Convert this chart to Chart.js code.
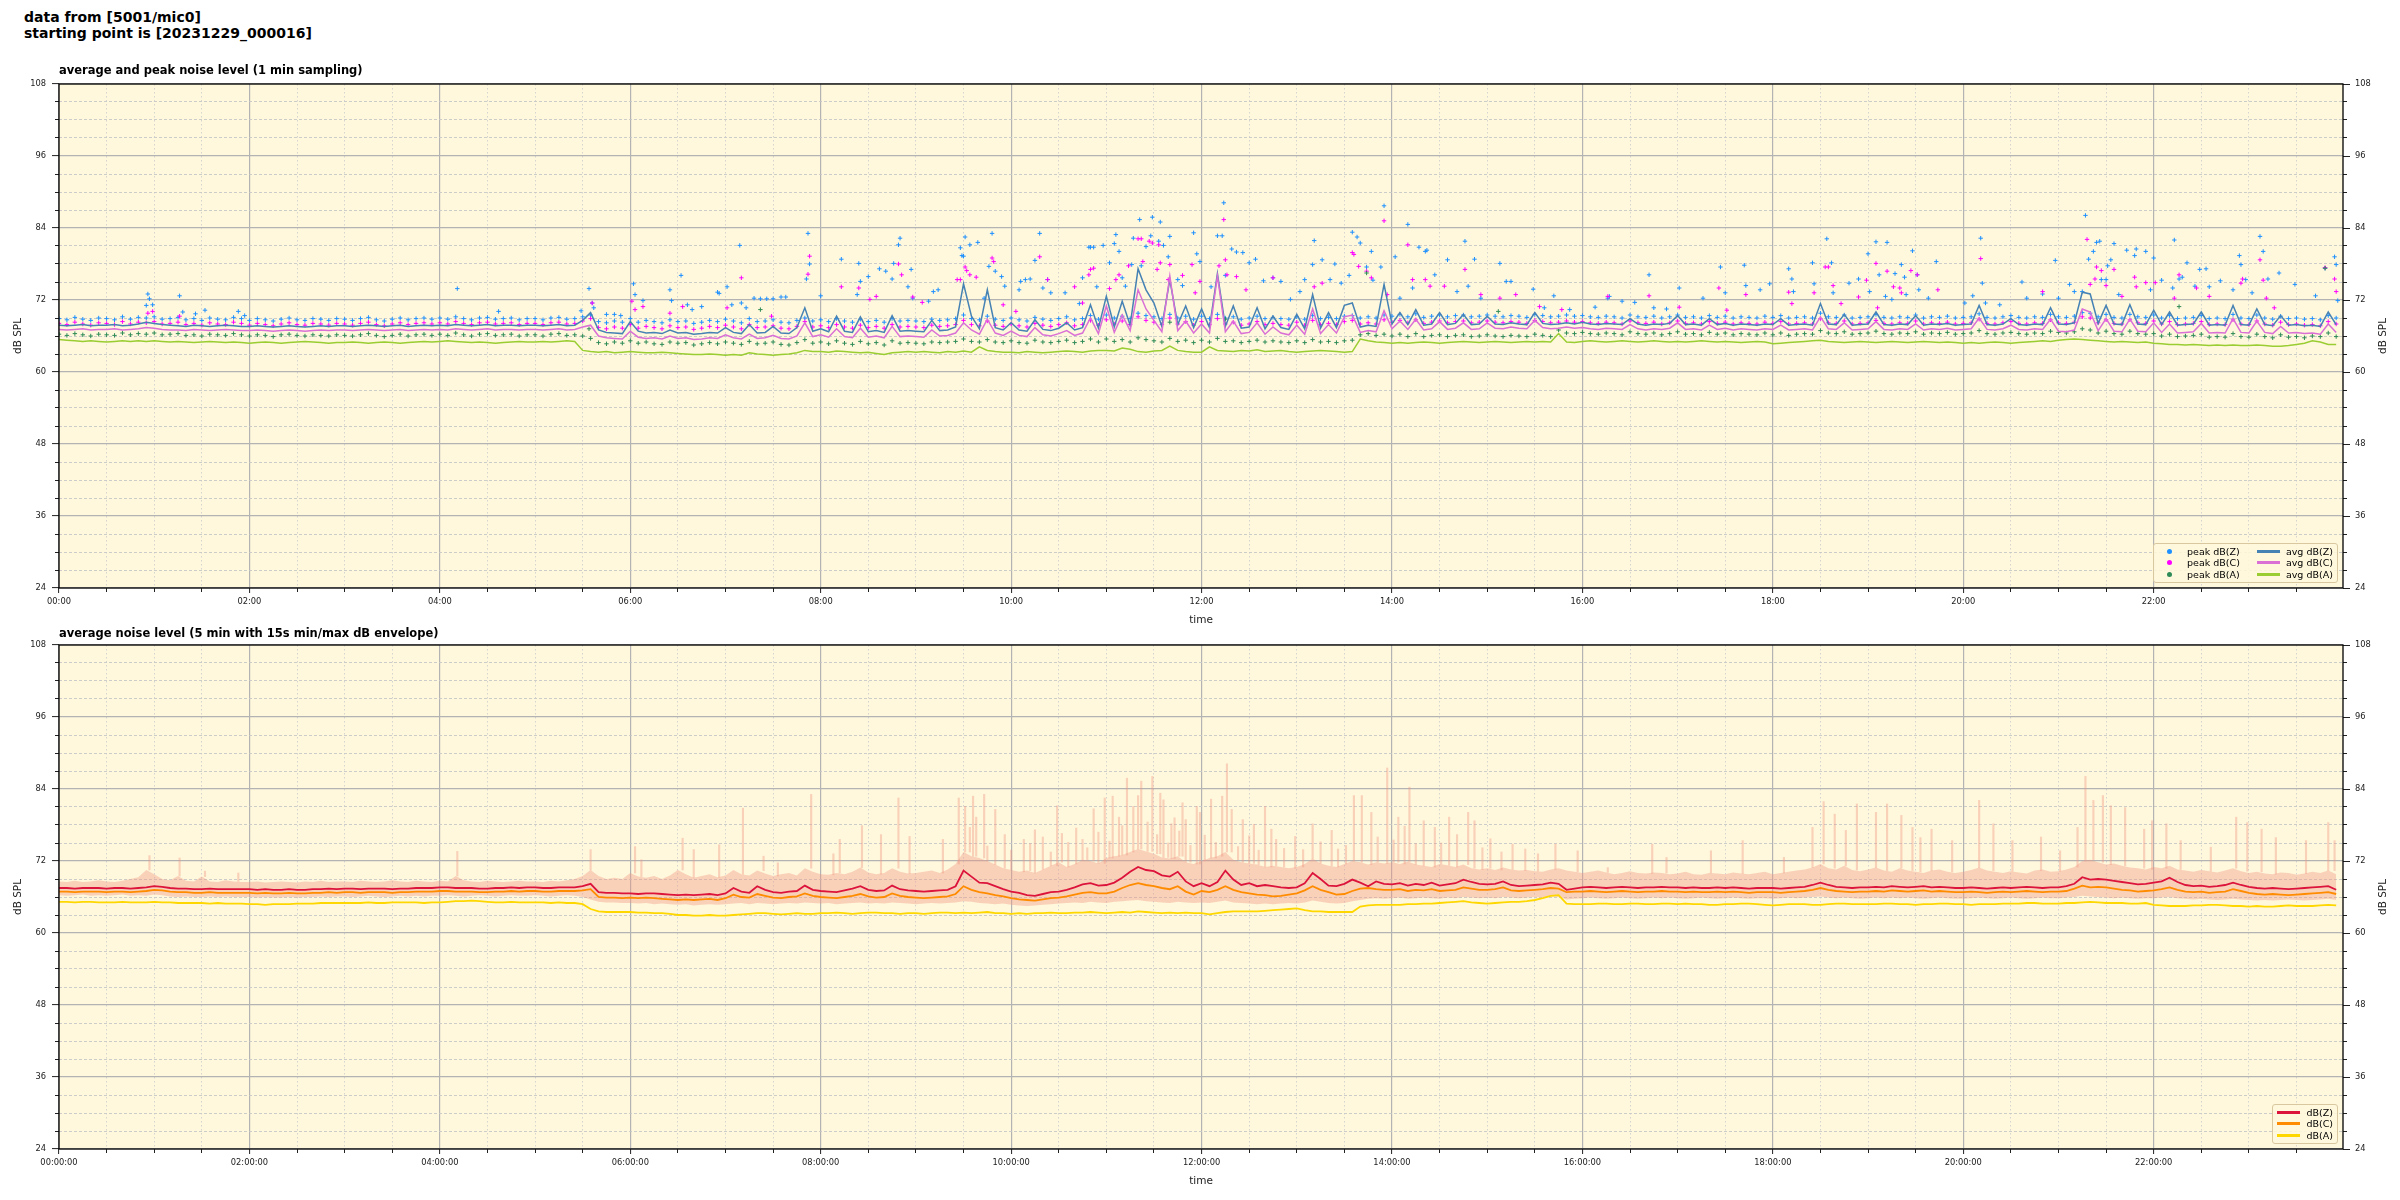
<!DOCTYPE html>
<html><head><meta charset="utf-8">
<script src="https://cdn.jsdelivr.net/npm/chart.js"></script>
<style>
html,body{margin:0;padding:0;background:#fff;}
body{width:2400px;height:1200px;position:relative;overflow:hidden;font-family:'DejaVu Sans',sans-serif;}
#hdr{position:absolute;left:24px;top:10px;font-weight:bold;font-size:14px;line-height:15.5px;color:#000;white-space:pre;}
canvas{position:absolute;left:0;}
#c1{top:45px;} #c2{top:605px;}
.rt{position:absolute;font-size:10.5px;color:#222;transform:translate(-50%,-50%) rotate(-90deg);white-space:nowrap;}
.lg{position:absolute;background:rgba(255,248,220,0.85);border:1px solid #d9c7a0;border-radius:3px;display:grid;grid-auto-flow:column;grid-template-rows:repeat(3,11.5px);column-gap:17px;padding:2px 4px;font-size:9.5px;color:#000;}
.li{display:flex;align-items:center;white-space:nowrap;}
.hd{display:inline-flex;width:23px;justify-content:center;align-items:center;margin-right:6px;}
</style></head><body>
<div id="hdr">data from [5001/mic0]
starting point is [20231229_000016]</div>
<canvas id="c1" width="2400" height="590"></canvas>
<canvas id="c2" width="2400" height="595"></canvas>
<div class="rt" style="left:2382px;top:336px">dB SPL</div>
<div class="rt" style="left:2382px;top:897px">dB SPL</div>
<div id="lg1" class="lg" style="right:62px;bottom:617px"></div>
<div id="lg2" class="lg" style="right:62px;bottom:56px"></div>
<script>
// ---------- data (5-minute slots, 24 rows x 12 values each) ----------
const STEP_MIN = 5;
const X_MAX = 1439.3;
const X_MAJOR_TICKS = [0,120,240,360,480,600,720,840,960,1080,1200,1320];
const X_MINOR_TICKS = [30,60,90,150,180,210,270,300,330,390,420,450,510,540,570,630,660,690,750,780,810,870,900,930,990,1020,1050,1110,1140,1170,1230,1260,1290,1350,1380,1410];
const Y_MAJOR_TICKS = [24,36,48,60,72,84,96,108];
const Y_MINOR_TICKS = [27,30,33,39,42,45,51,54,57,63,66,69,75,78,81,87,90,93,99,102,105];

const TOP_AVG_Z = [
67.8,67.7,67.8,67.9,67.7,67.8,67.8,67.9,67.7,67.8,68.0,68.3,
68.1,67.9,67.8,67.7,67.6,67.8,67.7,67.6,67.7,67.8,67.7,67.6,
67.6,67.7,67.6,67.5,67.6,67.7,67.6,67.5,67.6,67.7,67.6,67.7,
67.7,67.6,67.7,67.8,67.7,67.6,67.7,67.8,67.6,67.7,67.8,67.7,
67.8,67.7,67.9,67.8,67.7,67.8,67.9,67.7,67.8,67.8,67.7,67.8,
67.8,67.7,67.8,67.9,67.7,67.8,68.6,69.9,67.0,66.6,66.5,66.4,
68.4,66.8,66.5,66.6,66.4,67.0,66.5,66.6,66.3,66.4,66.6,66.5,
67.4,66.6,66.4,67.9,66.5,66.6,67.6,66.5,66.4,67.4,70.7,66.8,
67.2,66.7,69.3,66.8,66.6,69.2,66.7,66.9,66.6,69.4,66.8,66.9,
66.8,66.7,68.6,66.9,67.0,67.5,74.7,69.3,67.2,73.7,67.4,67.0,
68.2,67.0,66.8,68.7,67.1,66.9,67.3,68.2,67.0,67.4,71.2,67.3,
72.6,67.5,71.8,67.8,77.2,73.7,71.5,67.6,75.4,67.9,71.0,67.4,
70.5,67.4,76.4,67.6,71.0,67.3,67.5,70.7,67.2,69.3,67.4,67.1,
69.6,67.2,72.9,67.3,69.9,67.4,71.1,71.5,67.5,67.8,67.6,74.6,
68.0,69.9,67.9,70.4,67.8,68.0,69.9,67.9,68.1,69.6,67.9,68.0,
69.3,68.0,67.9,68.2,68.0,67.9,69.9,68.1,67.9,68.0,68.2,68.0,
68.3,68.0,67.9,68.1,68.0,67.9,68.9,68.0,67.8,68.0,67.9,68.1,
69.4,67.9,68.0,67.8,68.9,67.9,68.1,67.8,68.0,67.9,67.8,68.0,
67.9,68.9,67.8,67.9,68.0,67.8,71.4,68.0,67.9,69.6,67.8,67.9,
68.0,70.0,67.9,67.8,68.0,67.9,69.4,67.8,68.0,67.9,68.1,67.8,
67.9,68.0,71.1,67.9,67.8,68.0,68.9,67.9,67.8,68.0,67.9,70.7,
68.0,67.9,68.2,73.3,73.0,68.1,71.1,68.0,67.9,71.2,68.0,67.9,
70.3,67.9,70.0,67.8,67.9,68.0,70.0,67.8,67.9,67.8,71.1,67.9,
67.8,70.5,67.9,67.7,69.4,67.8,67.9,67.7,67.8,67.6,70.0,67.9];

const TOP_AVG_C = [
67.1,67.0,67.1,67.2,67.0,67.1,67.1,67.2,67.0,67.1,67.2,67.4,
67.3,67.1,67.0,67.0,66.9,67.1,67.0,66.9,67.0,67.1,67.0,66.9,
66.9,67.0,66.9,66.8,66.9,67.0,66.9,66.8,66.9,67.0,66.9,67.0,
67.0,66.9,67.0,67.1,67.0,66.9,67.0,67.1,66.9,67.0,67.1,67.0,
67.1,67.0,67.2,67.1,67.0,67.1,67.2,67.0,67.1,67.1,67.0,67.1,
67.1,67.0,67.1,67.2,67.0,67.1,67.5,67.8,66.0,65.7,65.6,65.5,
66.8,65.8,65.6,65.7,65.5,66.0,65.6,65.7,65.4,65.5,65.7,65.6,
66.2,65.7,65.5,66.3,65.6,65.7,66.1,65.6,65.5,66.0,68.2,65.9,
66.2,65.8,67.2,65.9,65.7,67.3,65.8,66.0,65.7,67.6,65.9,66.0,
65.9,65.8,67.0,66.0,66.1,66.5,68.2,67.0,66.3,68.8,66.5,66.1,
66.8,66.1,65.9,67.4,66.2,66.0,66.4,66.9,66.1,66.5,69.0,66.4,
71.0,66.6,69.5,66.9,73.7,70.5,68.6,66.7,76.0,66.9,68.5,66.5,
68.0,66.5,76.0,66.7,68.5,66.4,66.6,68.2,66.3,67.5,66.5,66.2,
67.8,66.3,70.5,66.4,67.9,66.5,69.2,69.5,66.6,66.9,66.7,70.2,
67.2,68.5,67.1,68.8,67.0,67.2,68.4,67.1,67.3,68.2,67.1,67.2,
68.2,67.3,67.2,67.5,67.3,67.2,68.6,67.4,67.2,67.3,67.5,67.3,
67.4,67.2,67.1,67.3,67.2,67.1,67.9,67.2,67.0,67.2,67.1,67.3,
68.2,67.1,67.2,67.0,67.8,67.1,67.3,67.0,67.2,67.1,67.0,67.2,
67.1,67.8,67.0,67.1,67.2,67.0,69.2,67.2,67.1,68.2,67.0,67.1,
67.2,68.4,67.1,67.0,67.2,67.1,68.0,67.0,67.2,67.1,67.3,67.0,
67.1,67.2,69.0,67.1,67.0,67.2,67.8,67.1,67.0,67.2,67.1,68.8,
66.8,66.7,67.0,70.5,70.0,66.9,68.9,66.8,66.7,68.8,66.8,66.7,
68.2,66.6,68.0,66.5,66.6,66.7,68.1,66.5,66.6,66.5,68.9,66.6,
66.5,68.5,66.6,66.4,67.6,66.5,66.6,66.4,66.5,66.3,68.0,66.6];

const TOP_AVG_A = [
65.4,65.3,65.2,65.1,65.2,65.1,65.0,65.1,65.2,65.1,65.2,65.1,
65.2,65.1,65.0,65.1,65.0,64.9,65.0,65.1,65.0,64.9,65.0,64.9,
64.8,64.9,65.0,64.9,64.8,64.9,65.0,65.1,65.0,64.9,64.8,64.9,
64.9,65.0,64.9,64.8,64.9,65.0,64.9,64.8,64.9,65.0,65.1,65.0,
65.1,65.2,65.1,65.0,64.9,65.0,64.9,64.8,64.9,65.0,65.1,65.0,
65.0,65.1,65.0,65.1,65.2,65.1,63.6,63.4,63.3,63.4,63.2,63.3,
63.4,63.3,63.2,63.2,63.3,63.2,63.1,63.0,62.9,62.9,63.0,62.9,
62.8,62.9,62.8,63.2,63.0,62.9,62.8,62.9,63.0,63.2,63.6,63.4,
63.4,63.3,63.5,63.4,63.3,63.2,63.3,63.1,62.9,63.2,63.3,63.4,
63.3,63.4,63.3,63.2,63.4,63.3,63.5,63.3,64.2,63.6,63.4,63.3,
63.3,63.2,63.4,63.3,63.2,63.3,63.4,63.5,63.4,63.3,63.5,63.6,
63.6,63.5,64.0,63.8,63.4,63.3,63.5,63.6,64.3,63.6,63.4,63.3,
63.3,64.2,63.6,63.5,63.4,63.6,63.5,63.7,63.4,63.5,63.6,63.4,
63.3,63.4,63.5,63.6,63.5,63.4,63.3,63.4,65.5,65.2,65.0,64.9,
64.8,64.9,64.8,64.9,65.0,64.9,64.8,64.9,65.0,65.1,65.0,64.9,
65.0,65.1,65.0,64.9,65.0,65.1,65.0,65.1,65.0,66.4,65.0,64.9,
65.1,65.2,65.1,65.0,65.1,65.2,65.1,65.0,65.1,65.2,65.1,65.0,
65.1,65.0,65.1,65.2,65.1,65.0,65.1,65.0,64.9,65.0,65.1,65.0,
64.7,64.8,64.9,65.0,65.1,65.2,65.3,65.1,65.0,64.9,65.0,65.1,
65.0,64.9,65.0,65.1,65.0,64.9,65.0,65.1,65.0,64.9,65.0,64.9,
64.8,64.9,64.8,64.9,65.0,64.9,64.8,64.9,65.0,65.1,65.2,65.1,
65.3,65.4,65.5,65.4,65.3,65.2,65.1,65.0,65.1,65.0,64.9,65.0,
64.8,64.7,64.6,64.6,64.5,64.6,64.5,64.4,64.5,64.4,64.5,64.4,
64.4,64.5,64.4,64.3,64.3,64.4,64.6,64.8,65.2,65.0,64.6,64.6];

const PEAK_Z = [
68.9,68.7,69.1,68.8,68.6,69.0,68.9,68.7,69.2,68.8,69.1,69.0,
69.2,68.8,68.9,69.1,68.7,68.9,68.6,69.0,68.8,68.7,69.1,68.9,
68.6,68.9,68.7,68.5,68.8,69.0,68.7,68.6,68.9,68.8,68.6,68.9,
68.8,68.6,68.9,69.1,68.7,68.5,68.8,69.0,68.7,68.9,69.0,68.8,
69.0,68.8,69.2,68.9,68.7,69.0,69.1,68.8,68.9,69.0,68.7,68.9,
68.9,68.7,69.0,69.1,68.8,68.9,69.2,69.5,68.4,68.2,68.5,68.3,
68.9,68.3,68.6,68.4,68.2,68.7,68.4,68.5,68.1,68.3,68.6,68.4,
68.8,68.5,68.2,68.9,68.4,68.5,68.7,68.3,68.2,68.6,69.0,68.5,
68.7,68.4,68.9,68.5,68.3,68.8,68.4,68.6,68.3,68.9,68.5,68.6,
68.5,68.4,68.8,68.6,68.7,68.9,69.5,68.9,68.7,69.3,68.8,68.6,
69.0,68.7,68.5,69.1,68.8,68.6,68.9,69.2,68.7,68.9,69.4,68.8,
69.5,69.0,69.3,68.9,69.8,69.4,69.2,68.9,69.6,69.0,69.3,68.8,
69.3,68.9,69.6,69.0,69.2,68.8,69.0,69.3,68.9,69.1,68.9,68.8,
69.2,68.8,69.4,68.9,69.1,68.9,69.3,69.4,69.0,69.2,69.0,69.5,
69.3,69.6,69.2,69.7,69.1,69.3,69.5,69.2,69.4,69.5,69.2,69.3,
69.5,69.3,69.2,69.4,69.3,69.1,69.6,69.4,69.2,69.3,69.5,69.3,
69.4,69.2,69.1,69.3,69.2,69.0,69.5,69.2,69.1,69.3,69.0,69.2,
69.5,69.1,69.2,69.0,69.4,69.1,69.3,69.0,69.2,69.1,69.0,69.3,
69.1,69.4,69.0,69.1,69.2,69.0,69.8,69.2,69.1,69.5,69.0,69.1,
69.2,69.6,69.1,69.0,69.2,69.1,69.5,69.0,69.2,69.1,69.3,69.0,
69.1,69.2,69.7,69.1,69.0,69.2,69.4,69.1,69.0,69.2,69.1,69.6,
69.2,69.1,69.3,69.9,69.8,69.2,69.6,69.1,69.0,69.6,69.2,69.1,
69.5,69.0,69.4,68.9,69.0,69.1,69.4,68.9,69.0,68.9,69.6,69.0,
68.9,69.5,69.0,68.8,69.3,68.9,69.0,68.8,68.9,68.7,69.4,69.0];

const PEAK_C = [
68.1,67.9,68.3,68.0,67.8,68.2,68.1,67.9,68.4,68.0,68.3,68.2,
68.4,68.0,68.1,68.3,67.9,68.1,67.8,68.2,68.0,67.9,68.3,68.1,
67.8,68.1,67.9,67.7,68.0,68.2,67.9,67.8,68.1,68.0,67.8,68.1,
68.0,67.8,68.1,68.3,67.9,67.7,68.0,68.2,67.9,68.1,68.2,68.0,
68.2,68.0,68.4,68.1,67.9,68.2,68.3,68.0,68.1,68.2,67.9,68.1,
68.1,67.9,68.2,68.3,68.0,68.1,68.5,68.9,67.4,67.2,67.5,67.3,
67.9,67.3,67.6,67.4,67.2,67.7,67.4,67.5,67.1,67.3,67.6,67.4,
67.8,67.5,67.2,67.9,67.4,67.5,67.7,67.3,67.2,67.6,68.4,67.5,
67.7,67.4,67.9,67.5,67.3,67.8,67.4,67.6,67.3,67.9,67.5,67.6,
67.5,67.4,67.8,67.6,67.7,67.9,68.6,67.9,67.7,68.5,67.8,67.6,
68.0,67.7,67.5,68.1,67.8,67.6,67.9,68.2,67.7,67.9,68.6,67.8,
68.7,68.0,68.5,67.9,69.2,68.6,68.3,67.9,69.0,68.0,68.4,67.8,
68.4,67.9,68.9,68.0,68.3,67.8,68.0,68.4,67.9,68.1,67.9,67.8,
68.3,67.8,68.6,67.9,68.1,67.9,68.4,68.6,68.0,68.2,68.0,68.7,
68.3,68.6,68.2,68.7,68.1,68.3,68.5,68.2,68.4,68.5,68.2,68.3,
68.5,68.3,68.2,68.4,68.3,68.1,68.6,68.4,68.2,68.3,68.5,68.3,
68.4,68.2,68.1,68.3,68.2,68.0,68.5,68.2,68.1,68.3,68.0,68.2,
68.5,68.1,68.2,68.0,68.4,68.1,68.3,68.0,68.2,68.1,68.0,68.3,
68.1,68.4,68.0,68.1,68.2,68.0,68.9,68.2,68.1,68.5,68.0,68.1,
68.2,68.6,68.1,68.0,68.2,68.1,68.5,68.0,68.2,68.1,68.3,68.0,
68.1,68.2,68.8,68.1,68.0,68.2,68.4,68.1,68.0,68.2,68.1,68.7,
68.2,68.1,68.3,69.2,69.0,68.2,68.7,68.1,68.0,68.7,68.2,68.1,
68.5,68.0,68.4,67.9,68.0,68.1,68.4,67.9,68.0,67.9,68.7,68.0,
67.9,68.5,68.0,67.8,68.3,67.9,68.0,67.8,67.9,67.7,68.4,68.0];

const PEAK_A = [
66.3,66.1,66.4,66.2,66.0,66.3,66.2,66.1,66.5,66.2,66.4,66.3,
66.5,66.2,66.3,66.4,66.1,66.2,66.0,66.3,66.2,66.1,66.4,66.2,
66.0,66.2,66.1,65.9,66.2,66.3,66.1,66.0,66.2,66.1,66.0,66.2,
66.1,66.0,66.2,66.4,66.1,65.9,66.1,66.3,66.0,66.2,66.3,66.1,
66.3,66.1,66.5,66.2,66.0,66.3,66.4,66.1,66.2,66.3,66.0,66.2,
66.2,66.0,66.3,66.4,66.1,66.2,66.0,65.6,64.9,64.7,65.0,64.8,
65.2,64.8,65.0,64.7,64.6,65.0,64.8,64.9,64.5,64.7,64.9,64.7,
65.0,64.8,64.6,65.1,64.7,64.8,65.0,64.6,64.5,64.9,65.4,64.8,
65.0,64.7,65.2,64.8,64.6,65.1,64.7,64.9,64.5,65.2,64.8,64.9,
64.8,64.7,65.0,64.9,65.0,65.1,65.5,65.1,65.0,65.4,65.0,64.9,
65.2,64.9,64.8,65.3,65.0,64.9,65.1,65.3,64.9,65.1,65.5,65.0,
65.5,65.1,65.4,65.0,65.7,65.4,65.2,65.0,65.6,65.1,65.3,64.9,
65.3,65.0,65.6,65.1,65.2,64.9,65.1,65.3,65.0,65.2,65.0,64.9,
65.2,64.9,65.4,65.0,65.1,64.9,65.2,65.3,66.2,66.4,66.1,66.3,
66.0,66.3,65.9,66.4,65.9,66.1,66.2,65.9,66.1,66.2,65.9,66.0,
66.2,66.0,65.9,66.1,66.0,65.9,66.3,66.1,65.9,67.0,66.5,66.4,
66.6,66.4,66.3,66.5,66.4,66.2,66.7,66.4,66.3,66.5,66.2,66.4,
66.7,66.3,66.4,66.2,66.6,66.3,66.5,66.2,66.4,66.3,66.2,66.5,
66.2,66.5,66.1,66.3,66.4,66.3,66.9,66.5,66.4,66.7,66.3,66.4,
66.5,66.8,66.4,66.3,66.5,66.4,66.7,66.3,66.5,66.4,66.6,66.3,
66.4,66.5,66.9,66.4,66.3,66.5,66.6,66.4,66.3,66.5,66.4,66.8,
66.6,66.5,66.7,67.2,67.0,66.5,66.8,66.4,66.3,66.8,66.4,66.3,
66.4,66.0,66.3,65.9,66.0,66.1,66.3,65.8,65.9,65.8,66.4,65.9,
65.8,66.3,65.9,65.7,66.2,65.8,65.9,65.7,66.0,65.9,66.5,65.9];

// isolated peak readings (minute of day, dB)
const PEAK_Z_OUT_MIN = [55,56,57,59,76,78,86,92,113,117,251,277,329,334,336,337,345,350,354,362,363,368,385,386,392,396,399,405,415,416,421,424,429,430,433,438,442,446,450,455,458,471,472,473,480,
493,503,504,505,510,517,521,525,526,529,530,535,537,538,548,551,554,568,569,570,571,574,579,583,586,588,590,594,596,605,606,609,612,615,618,620,623,625,634,643,645,649,650,652,654,658,662,665,666,668,670,672,676,677,681,682,685,688,689,693,694,696,699,700,705,708,715,717,719,726,730,733,734,735,739,742,746,750,754,759,765,770,776,782,785,790,791,796,801,804,808,813,815,818,820,824,827,828,833,835,842,845,850,853,857,861,862,867,875,881,886,888,892,896,908,912,915,929,936,942,952,
968,976,977,985,993,1002,1005,1013,1021,1036,1047,1050,1062,1063,1072,1078,1090,1092,1093,1105,1106,1114,1117,1118,1128,1134,1140,1141,1145,1147,1151,1152,1155,1157,1161,1163,1164,1168,1171,1172,1178,1183,1201,1206,1211,1212,1214,1223,1237,1240,1250,1258,1260,1267,1270,1275,1277,1279,1282,1284,1286,1287,1290,1291,1293,1295,1298,1303,1308,1309,1315,1318,1320,1325,1332,1333,1336,1338,1341,1346,1349,1353,1355,1362,1370,1374,1375,1378,1382,1387,1389,1392,1399,1409,1422,1428,1434,1435,1436];
const PEAK_Z_OUT_DB = [71.1,73.0,72.2,71.2,72.7,70.0,69.7,70.3,70.1,69.4,73.9,70.1,70.2,73.9,71.5,70.7,69.6,69.6,69.4,74.7,72.9,71.9,73.7,71.9,76.1,71.2,70.4,70.9,73.3,73.1,74.2,71.2,81.1,71.5,70.7,72.3,72.2,72.2,72.2,72.5,72.5,75.5,83.1,78.0,72.7,
78.8,72.9,78.1,75.1,75.9,77.2,76.8,75.5,78.1,81.2,82.3,74.2,77.1,72.3,71.8,73.4,73.7,80.7,79.4,79.3,82.5,81.2,81.6,72.3,77.6,83.1,76.8,75.9,74.3,73.7,75.1,75.4,75.5,78.6,83.1,74.0,75.4,73.2,73.2,71.4,75.7,80.8,80.8,80.8,74.2,81.1,78.2,81.4,82.9,80.1,75.7,74.3,77.9,82.3,85.4,77.7,80.9,82.7,85.8,81.8,85.0,81.1,79.2,82.6,75.4,74.4,83.2,79.7,78.4,74.2,82.7,82.7,88.2,76.1,80.5,80.0,79.9,78.2,78.8,75.2,75.7,75.1,72.1,73.4,75.4,77.9,81.9,78.7,75.4,78.0,74.8,76.1,83.3,82.5,81.5,77.5,80.1,75.3,77.5,87.7,79.2,72.3,84.6,74.0,80.8,80.1,80.3,76.2,78.7,73.4,81.8,74.3,78.8,72.3,78.1,75.1,75.1,73.8,70.7,72.7,70.4,
70.8,72.3,72.6,71.8,71.6,76.2,70.7,70.5,74.0,72.3,77.5,73.2,77.8,74.4,73.7,74.7,77.2,75.5,73.4,78.2,74.7,82.2,78.2,73.2,74.8,75.5,79.7,73.4,81.7,76.2,72.6,81.6,72.1,76.4,77.9,75.8,72.9,80.2,76.2,73.7,72.3,78.4,71.5,72.7,82.3,74.8,71.5,71.2,75.0,72.3,73.0,78.6,72.3,74.6,73.4,73.4,86.1,78.8,80.1,81.6,81.8,75.4,75.4,77.7,78.7,81.4,72.9,80.3,79.4,80.5,80.1,73.7,79.0,75.3,74.0,82.0,75.5,75.8,78.2,74.3,77.1,77.2,74.2,75.2,73.7,79.4,77.9,75.4,73.2,82.6,80.1,75.5,76.5,74.6,72.7,77.3,79.2,77.9,71.9];

const PEAK_C_OUT_MIN = [56,59,76,336,361,363,368,385,393,421,430,449,472,473,
493,504,511,515,529,531,538,544,566,568,571,572,574,578,588,589,595,603,618,623,640,645,649,650,652,662,666,668,674,680,682,683,687,689,692,693,694,699,700,708,714,716,719,731,734,735,736,742,748,765,791,796,815,816,819,824,827,835,837,850,853,861,864,873,886,896,908,918,933,947,
976,1002,1021,1046,1051,1063,1090,1092,1106,1113,1115,1118,1123,1134,1139,1145,1146,1152,1156,1160,1161,1167,1171,1184,1211,1250,1278,1280,1283,1284,1287,1290,1295,1300,1308,1309,1315,1321,1333,1336,1347,1355,1375,1376,1387,1389,1391,1396,1428,1434,1435];
const PEAK_C_OUT_DB = [69.8,70.1,69.3,71.5,71.8,70.4,70.9,69.8,70.9,70.7,75.7,69.3,76.3,79.3,
74.2,74.0,72.1,72.6,78.0,76.2,72.5,71.6,75.4,75.4,77.5,76.9,76.2,75.8,79.0,78.4,71.2,70.1,79.2,75.4,74.2,71.5,76.2,77.1,77.3,73.9,75.4,76.2,77.7,82.2,82.2,78.4,81.8,81.5,77.1,81.2,78.2,75.4,77.9,76.1,77.9,73.2,75.1,77.7,85.4,78.7,76.2,75.9,73.7,75.7,74.2,74.8,79.9,79.6,77.6,76.8,75.7,85.2,72.9,81.2,75.4,75.4,74.3,74.3,77.1,72.9,72.3,72.9,70.9,70.4,
72.6,72.7,70.8,74.0,70.3,72.9,73.3,71.4,73.2,77.5,77.5,74.4,71.4,72.5,75.3,78.1,70.7,76.8,74.2,74.0,73.2,76.9,76.2,73.7,78.9,73.4,82.1,74.6,75.5,77.5,76.9,74.4,77.1,72.6,75.8,74.2,74.9,74.9,72.3,76.2,74.0,72.6,74.8,75.5,78.7,75.3,72.3,70.7,77.4,75.5,73.4];

const PEAK_A_OUT_MIN = [334,442,700,735,824,907,1336,1428];
const PEAK_A_OUT_DB = [67.2,70.4,68.3,68.8,76.5,70.1,70.9,77.3];

// bottom chart: 5-min averages
const BOT_Z = [
67.5,67.5,67.4,67.5,67.5,67.5,67.4,67.5,67.5,67.4,67.5,67.6,
67.8,67.7,67.5,67.4,67.4,67.3,67.3,67.4,67.3,67.3,67.3,67.3,
67.3,67.2,67.3,67.2,67.2,67.3,67.2,67.2,67.3,67.3,67.4,67.3,
67.4,67.4,67.3,67.4,67.4,67.4,67.3,67.4,67.4,67.5,67.5,67.5,
67.6,67.6,67.5,67.5,67.5,67.4,67.4,67.5,67.5,67.6,67.5,67.6,
67.6,67.5,67.5,67.6,67.6,67.6,67.8,68.2,66.8,66.7,66.7,66.6,
66.6,66.5,66.6,66.6,66.5,66.4,66.3,66.4,66.3,66.4,66.5,66.3,
66.6,67.5,66.9,66.7,67.8,67.2,66.8,66.7,66.9,67.0,67.9,67.2,
67.0,66.9,66.8,67.1,67.4,67.8,67.2,67.0,67.1,67.9,67.3,67.1,
67.0,66.9,67.0,67.1,67.2,67.8,70.4,69.4,68.4,68.3,67.8,67.3,
66.9,66.7,66.3,66.2,66.5,66.8,66.9,67.2,67.6,68.1,68.3,67.9,
68.0,68.4,69.2,70.2,71.0,70.5,70.3,69.6,69.4,70.2,68.6,67.8,
68.3,67.8,68.5,70.4,68.9,68.0,68.3,67.8,68.0,67.8,67.6,67.5,
67.6,68.3,70.0,69.0,67.9,67.8,68.2,68.9,68.4,67.8,68.6,68.2,
68.1,68.3,67.9,68.2,68.0,68.4,67.9,68.1,68.3,68.9,68.5,68.2,
68.1,68.2,68.6,68.0,67.8,67.9,68.0,68.1,68.4,68.2,67.2,67.4,
67.6,67.7,67.6,67.5,67.6,67.7,67.6,67.5,67.6,67.6,67.7,67.6,
67.6,67.5,67.6,67.5,67.5,67.6,67.5,67.6,67.5,67.4,67.5,67.5,
67.5,67.4,67.5,67.6,67.7,68.0,68.4,68.0,67.7,67.6,67.5,67.6,
67.6,67.7,67.6,67.8,67.7,67.6,67.7,67.8,67.6,67.7,67.6,67.5,
67.5,67.6,67.5,67.4,67.5,67.6,67.5,67.6,67.7,67.6,67.5,67.6,
67.6,67.8,68.2,69.3,68.9,69.0,68.9,68.7,68.5,68.3,68.1,68.2,
68.4,68.6,69.2,68.5,68.0,67.8,67.9,67.7,67.8,68.0,68.4,68.0,
67.7,67.5,67.4,67.5,67.4,67.3,67.4,67.5,67.6,67.7,67.8,67.2];

const BOT_C = [
66.9,66.9,66.8,66.9,66.9,66.9,66.8,66.9,66.9,66.8,66.9,67.0,
67.2,67.1,66.9,66.8,66.8,66.7,66.7,66.8,66.7,66.7,66.7,66.7,
66.7,66.6,66.7,66.6,66.6,66.7,66.6,66.6,66.7,66.7,66.8,66.7,
66.8,66.8,66.7,66.8,66.8,66.8,66.7,66.8,66.8,66.9,66.9,66.9,
67.0,67.0,66.9,66.9,66.9,66.8,66.8,66.9,66.9,67.0,66.9,67.0,
67.0,66.9,66.9,67.0,67.0,67.0,67.1,67.3,66.0,65.9,65.9,65.8,
65.9,65.8,65.9,65.8,65.7,65.6,65.5,65.6,65.5,65.6,65.7,65.5,
65.8,66.4,66.0,65.9,66.5,66.2,65.9,65.8,66.0,66.1,66.6,66.2,
66.0,65.9,65.8,66.0,66.2,66.5,66.1,65.9,66.0,66.6,66.2,66.0,
65.9,65.8,65.9,66.0,66.1,66.5,67.8,67.2,66.8,66.6,66.3,66.1,
65.8,65.6,65.5,65.4,65.6,65.8,65.9,66.1,66.4,66.7,66.8,66.6,
66.6,66.9,67.5,68.0,68.3,68.0,67.8,67.5,67.3,67.8,66.9,66.4,
67.0,66.8,67.2,67.8,67.2,66.8,66.6,66.4,66.3,66.1,66.2,66.4,
66.6,67.1,67.8,67.2,66.8,66.4,66.5,67.0,67.4,67.5,67.3,67.2,
67.2,67.3,67.0,67.2,67.1,67.3,67.0,67.1,67.2,67.6,67.4,67.2,
67.2,67.3,67.6,67.1,67.0,67.1,67.2,67.3,67.5,67.4,66.8,66.9,
66.9,67.0,66.9,66.8,66.9,67.0,66.9,66.8,66.9,66.9,67.0,66.9,
66.9,66.8,66.9,66.8,66.8,66.9,66.8,66.9,66.8,66.7,66.8,66.8,
66.8,66.7,66.8,66.9,67.0,67.2,67.5,67.2,67.0,66.9,66.8,66.9,
66.9,67.0,66.9,67.1,67.0,66.9,67.0,67.1,66.9,67.0,66.9,66.8,
66.8,66.9,66.8,66.7,66.8,66.9,66.8,66.9,67.0,66.9,66.8,66.9,
66.9,67.0,67.4,67.9,67.6,67.7,67.6,67.4,67.2,67.1,66.9,67.0,
67.1,67.3,67.6,67.2,66.9,66.8,66.9,66.7,66.8,66.9,67.3,67.0,
66.7,66.5,66.4,66.5,66.4,66.3,66.4,66.5,66.6,66.7,66.8,66.5];

const BOT_A = [
65.2,65.2,65.1,65.2,65.2,65.1,65.1,65.1,65.2,65.1,65.1,65.1,
65.2,65.1,65.1,65.0,65.0,65.0,65.0,64.9,65.0,64.9,64.9,64.9,
64.8,64.8,64.7,64.8,64.8,64.8,64.9,64.9,64.9,65.0,65.0,65.0,
65.0,65.0,65.0,65.1,65.0,65.0,65.1,65.1,65.1,65.1,65.0,65.1,
65.1,65.2,65.3,65.3,65.4,65.3,65.2,65.1,65.1,65.2,65.1,65.1,
65.1,65.1,65.0,65.1,65.0,65.0,64.8,64.0,63.6,63.5,63.5,63.5,
63.5,63.4,63.4,63.3,63.3,63.2,63.0,63.0,62.9,62.9,63.0,62.9,
62.9,63.0,63.1,63.2,63.3,63.3,63.2,63.1,63.2,63.3,63.2,63.2,
63.3,63.3,63.4,63.3,63.2,63.3,63.4,63.4,63.3,63.3,63.2,63.3,
63.3,63.2,63.3,63.4,63.4,63.3,63.4,63.3,63.4,63.5,63.3,63.3,
63.2,63.3,63.2,63.3,63.3,63.4,63.3,63.3,63.4,63.4,63.5,63.4,
63.3,63.4,63.5,63.4,63.6,63.5,63.4,63.3,63.4,63.3,63.4,63.3,
63.3,63.1,63.3,63.5,63.6,63.6,63.6,63.6,63.7,63.8,63.9,64.0,
64.1,63.8,63.6,63.6,63.5,63.5,63.5,63.5,64.4,64.6,64.7,64.7,
64.7,64.7,64.8,64.8,64.9,64.9,65.0,65.1,65.2,65.3,65.1,65.0,
64.9,65.0,65.1,65.2,65.2,65.3,65.5,65.8,66.2,66.3,64.9,64.8,
64.8,64.8,64.9,64.9,64.8,64.8,64.9,64.9,64.8,64.8,64.9,64.9,
64.8,64.9,64.8,64.8,64.7,64.7,64.8,64.8,64.9,64.9,64.8,64.7,
64.6,64.7,64.8,64.8,64.8,64.7,64.7,64.8,64.9,64.9,64.8,64.8,
64.8,64.8,64.9,64.9,64.8,64.8,64.7,64.8,64.8,64.9,64.9,64.8,
64.8,64.7,64.8,64.8,64.8,64.9,64.9,64.9,65.0,65.0,64.9,64.9,
64.9,65.0,65.0,65.1,65.2,65.1,65.0,65.0,65.0,64.9,64.9,65.0,
64.7,64.6,64.5,64.5,64.5,64.6,64.6,64.7,64.7,64.6,64.5,64.5,
64.4,64.5,64.4,64.4,64.5,64.6,64.5,64.5,64.5,64.6,64.7,64.6];

// 15 s min/max envelope: typical upper and lower edge per 5-min slot
const ENV_HI = [
68.6,68.5,68.7,68.5,68.6,68.8,68.6,68.5,68.7,69.0,69.3,70.5,
69.8,69.0,68.8,69.5,68.7,68.6,69.4,68.6,68.5,68.8,68.6,68.5,
68.5,68.6,68.4,68.5,68.6,68.5,68.4,68.6,68.5,68.7,68.5,68.6,
68.6,68.5,68.7,68.6,68.5,68.6,68.8,68.6,68.5,68.7,68.6,68.5,
68.7,68.6,69.5,68.8,68.6,68.5,68.7,68.6,68.5,68.6,68.7,68.6,
68.6,68.5,68.7,68.6,68.8,69.0,69.5,70.5,69.5,69.0,69.2,69.0,
70.0,69.4,69.2,69.5,69.0,69.6,70.5,69.8,69.2,69.5,69.8,69.3,
69.6,70.5,69.8,69.6,70.4,69.9,69.5,69.8,70.0,69.6,70.8,70.2,
69.8,69.7,70.0,69.8,70.2,70.9,70.1,69.8,70.0,70.8,70.2,69.9,
70.0,70.2,70.4,70.0,70.6,71.5,73.5,72.8,72.5,72.0,71.4,70.8,
70.5,70.2,70.4,70.0,70.6,71.2,71.8,71.0,71.5,72.2,72.0,71.6,
72.5,72.8,73.0,73.5,74.0,73.6,73.2,72.6,72.4,72.8,71.8,71.5,
72.0,72.5,72.8,73.5,72.2,71.8,71.6,71.4,71.0,71.2,71.0,70.8,
71.0,71.5,72.4,71.6,71.2,71.0,71.5,72.0,71.8,71.4,71.8,71.6,
71.8,71.5,71.9,71.4,71.2,71.0,71.5,71.3,71.0,71.4,70.8,70.6,
70.8,70.5,70.9,70.6,70.4,70.5,70.3,70.2,70.6,70.8,70.4,70.2,
70.0,70.2,70.4,70.1,69.8,70.0,70.3,70.0,69.9,70.1,70.0,69.8,
69.9,70.2,69.8,69.7,70.0,69.9,69.8,70.1,69.9,69.8,70.0,70.2,
69.8,70.0,70.2,70.4,70.6,70.9,71.5,70.8,70.6,71.2,70.5,70.3,
70.6,70.9,70.4,70.2,70.8,70.4,70.2,70.0,70.4,70.6,70.2,70.0,
70.2,70.5,70.9,70.4,70.2,70.0,70.3,70.1,69.9,70.4,70.6,70.2,
70.3,70.6,71.0,72.0,72.2,71.8,71.4,71.6,71.2,70.9,70.8,70.6,
71.0,70.8,71.2,70.6,70.4,70.2,70.5,70.3,70.1,70.4,70.8,70.3,
70.0,70.2,69.9,69.8,70.1,70.0,69.7,69.9,70.2,70.0,70.4,69.8];

const ENV_LO = [
66.3,66.2,66.3,66.4,66.2,66.3,66.2,66.3,66.4,66.2,66.3,66.2,
66.4,66.3,66.1,66.0,66.1,66.0,66.0,66.1,66.0,66.1,66.0,66.0,
66.0,65.9,66.0,65.9,65.9,66.0,65.9,66.0,66.0,66.1,66.0,66.1,
66.1,66.0,66.1,66.2,66.1,66.0,66.1,66.2,66.1,66.2,66.1,66.2,
66.2,66.3,66.2,66.1,66.2,66.3,66.2,66.1,66.2,66.3,66.2,66.2,
66.3,66.2,66.1,66.2,66.3,66.2,66.0,65.6,65.2,65.1,65.1,65.0,
65.0,64.9,65.0,64.8,64.9,64.8,64.7,64.8,64.6,64.7,64.8,64.7,
64.8,64.9,65.0,64.8,65.0,64.9,64.8,64.9,65.0,64.9,65.1,65.0,
64.9,65.0,64.8,64.9,65.0,65.1,64.9,65.0,64.9,65.1,65.0,64.9,
64.8,64.9,65.0,64.9,65.0,65.1,65.3,65.2,65.0,64.9,64.8,64.9,
64.7,64.6,64.5,64.6,64.7,64.8,64.9,65.0,65.1,65.0,65.2,65.1,
65.0,65.2,65.3,65.4,65.5,65.3,65.2,65.1,65.0,65.2,65.1,65.0,
65.1,65.0,65.2,65.4,65.1,65.0,64.9,64.8,64.9,64.8,64.9,65.0,
64.9,65.1,65.4,65.2,65.0,64.9,65.0,65.3,65.5,65.7,65.8,65.7,
65.8,65.9,65.7,65.8,65.9,65.8,65.7,65.9,65.8,66.0,65.9,65.8,
65.9,65.8,66.0,65.9,65.8,65.9,66.0,65.9,66.1,66.0,65.6,65.7,
65.8,65.9,65.8,65.7,65.8,65.9,65.8,65.7,65.8,65.9,65.8,65.9,
65.8,65.7,65.8,65.9,65.8,65.7,65.8,65.9,65.8,65.7,65.8,65.8,
65.7,65.8,65.9,65.8,65.9,66.0,66.1,65.9,65.8,65.9,65.8,65.7,
65.8,65.9,65.8,65.9,65.8,65.9,65.8,65.7,65.8,65.9,65.8,65.7,
65.7,65.8,65.9,65.8,65.7,65.8,65.9,65.8,65.7,65.8,65.9,65.8,
65.8,65.9,66.0,66.2,66.1,66.0,65.9,65.8,65.9,65.8,65.7,65.8,
65.8,65.9,66.0,65.8,65.7,65.6,65.7,65.6,65.5,65.6,65.7,65.6,
65.5,65.4,65.5,65.4,65.5,65.6,65.5,65.4,65.5,65.6,65.7,65.5];

// short 15 s maxima rising above the envelope (minute of day, dB)
const ENV_SPIKE_MIN = [57,76,92,113,251,335,363,367,393,400,416,431,444,453,474,488,492,506,518,529,536,557,567,571,574,576,578,583,585,590,596,600,608,612,615,620,625,629,632,636,641,645,648,652,655,659,662,664,668,670,673,677,680,682,686,689,692,694,696,699,701,703,706,708,710,713,717,719,722,726,729,733,736,739,743,746,750,753,756,760,764,767,772,779,784,790,795,802,806,811,816,821,827,831,837,841,844,848,851,855,860,867,871,876,881,888,892,897,902,909,916,924,932,943,957,976,1004,1013,1041,1061,1087,1105,1112,1119,1126,1133,1145,1152,1161,1168,1173,1180,1193,1210,1219,1231,1249,1261,1272,1277,1282,1288,1293,1302,1314,1319,1328,1337,1356,1372,1379,1388,1397,1416,1430,1434];
const ENV_SPIKE_DB = [72.9,72.5,70.3,70.0,73.6,73.9,74.4,72.2,75.8,73.9,74.7,80.8,72.8,71.7,83.1,73.2,75.6,77.9,76.4,82.5,76.1,75.6,82.5,81.1,77.6,82.8,79.3,83.1,74.5,80.6,76.4,73.8,75.6,74.9,77.2,76.0,73.5,81.2,76.6,75.1,77.5,75.6,74.2,80.7,76.8,82.5,75.3,82.8,79.3,77.9,85.8,81.1,82.9,85.3,78.5,86.1,76.4,83.3,82.2,75.0,78.2,79.2,77.0,81.7,78.9,74.6,81.1,80.1,76.3,82.3,75.1,82.8,88.2,80.6,74.4,78.9,76.2,78.1,73.8,81.1,77.3,75.6,74.1,76.1,73.9,78.2,75.2,77.1,74.0,74.6,82.9,82.9,80.1,76.0,87.5,75.5,79.3,77.8,84.3,74.9,78.7,77.6,75.0,79.3,76.4,80.1,78.7,74.2,75.7,73.5,74.8,74.0,73.2,74.8,73.7,70.9,74.8,72.6,73.7,75.4,72.6,77.6,81.9,79.8,77.1,81.5,80.1,81.5,79.6,77.6,75.9,77.3,75.4,82.1,78.2,75.4,76.0,73.7,77.6,86.1,82.1,82.9,81.2,80.9,77.3,78.7,78.2,75.4,74.3,79.3,78.4,77.3,75.9,75.4,78.4,75.4];

// ---------- helpers ----------
const FONT = "'DejaVu Sans', sans-serif";
const TICK_FONT = {family: FONT, size: 8.3};
const LABEL_FONT = {family: FONT, size: 10.5};
const pad2 = n => String(n).padStart(2, '0');
const fmtHM = v => pad2(Math.floor(v / 60)) + ':' + pad2(Math.round(v % 60));
const fmtHMS = v => fmtHM(v) + ':00';
const slotPoints = arr => arr.map((v, i) => ({x: i * STEP_MIN, y: v}));
const pairPoints = (ts, vs) => ts.map((t, i) => ({x: t, y: vs[i]}));
const setTicks = list => s => { s.ticks = list.map(v => ({value: v})); };

function buildScales(fmt, xAxisH, xTitlePadB) {
  const xBase = {type: 'linear', min: 0, max: X_MAX, offset: false};
  const yBase = {type: 'linear', min: 24, max: 108};
  return {
    x: Object.assign({}, xBase, {position: 'bottom', weight: 1,
      afterBuildTicks: setTicks(X_MAJOR_TICKS),
      ticks: {callback: v => fmt(v), font: TICK_FONT, color: '#222', padding: 4, maxRotation: 0, autoSkip: false},
      grid: {color: '#b3b3b3', lineWidth: 1.2, tickLength: 5, tickColor: '#222', tickWidth: 1, offset: false},
      border: {display: false},
      title: {display: true, text: 'time', font: LABEL_FONT, color: '#222', padding: {top: 0, bottom: xTitlePadB}},
      afterFit: s => { s.height = xAxisH; }}),
    xm: Object.assign({}, xBase, {position: 'bottom', weight: 0,
      afterBuildTicks: setTicks(X_MINOR_TICKS),
      ticks: {display: false},
      grid: {color: '#cfcfcf', lineWidth: 0.9, tickLength: 4, tickColor: '#222', tickWidth: 1, offset: false},
      border: {display: false, dash: [1.5, 2.5]},
      afterFit: s => { s.height = 0; }}),
    y: Object.assign({}, yBase, {position: 'left', weight: 1,
      afterBuildTicks: setTicks(Y_MAJOR_TICKS),
      ticks: {callback: v => String(v), font: TICK_FONT, color: '#222', padding: 6, autoSkip: false},
      grid: {color: '#b3b3b3', lineWidth: 1.2, tickLength: 7, tickColor: '#222', tickWidth: 1},
      border: {display: false},
      title: {display: true, text: 'dB SPL', font: LABEL_FONT, color: '#222', padding: {top: 11.7, bottom: 0}},
      afterFit: s => { s.width = 59; }}),
    ym: Object.assign({}, yBase, {position: 'left', weight: 0,
      afterBuildTicks: setTicks(Y_MINOR_TICKS),
      ticks: {display: false},
      grid: {color: '#c6c6c6', lineWidth: 0.9, tickLength: 4, tickColor: '#222', tickWidth: 1},
      border: {display: false, dash: [3, 2]},
      afterFit: s => { s.width = 0; }}),
    yr: Object.assign({}, yBase, {position: 'right', weight: 1,
      afterBuildTicks: setTicks(Y_MAJOR_TICKS),
      ticks: {callback: v => String(v), font: TICK_FONT, color: '#222', padding: 5, autoSkip: false},
      grid: {drawOnChartArea: false, tickLength: 7, tickColor: '#222', tickWidth: 1},
      border: {display: false},
      afterFit: s => { s.width = 57; }}),
    yrm: Object.assign({}, yBase, {position: 'right', weight: 0,
      afterBuildTicks: setTicks(Y_MINOR_TICKS),
      ticks: {display: false},
      grid: {drawOnChartArea: false, tickLength: 4, tickColor: '#222', tickWidth: 1},
      border: {display: false},
      afterFit: s => { s.width = 0; }})
  };
}

const frame = {
  id: 'frame',
  beforeDraw(chart) {
    const {ctx, chartArea: a} = chart;
    ctx.save(); ctx.fillStyle = '#fff8dc';
    ctx.fillRect(a.left, a.top, a.right - a.left, a.bottom - a.top); ctx.restore();
  },
  afterDraw(chart) {
    const {ctx, chartArea: a} = chart;
    ctx.save(); ctx.strokeStyle = '#000'; ctx.lineWidth = 1.3;
    ctx.strokeRect(a.left, a.top, a.right - a.left, a.bottom - a.top); ctx.restore();
  }
};

function titleOpts(text, padTop, padBottom) {
  return {display: true, text, align: 'start', fullSize: false, color: '#000',
    font: {family: FONT, size: 11.5, weight: 'bold'}, padding: {top: padTop, bottom: padBottom}};
}

const common = {responsive: false, animation: false, devicePixelRatio: 1, events: [],
  layout: {padding: 0}};

// ---------- chart 1 ----------
const peakDs = (label, band, ts, vs, color, order) => ({label, inLegend: true, showLine: false,
  data: slotPoints(band).concat(pairPoints(ts, vs)),
  pointStyle: 'cross', pointRadius: 2.2, pointBorderWidth: 1, borderColor: color, backgroundColor: color, order});
const lineDs = (label, arr, color, width, order) => ({label, inLegend: true, data: slotPoints(arr),
  borderColor: color, backgroundColor: color, borderWidth: width, pointRadius: 0, tension: 0, fill: false, order});

const chart1 = new Chart(document.getElementById('c1'), {
  type: 'line',
  data: {datasets: [
    peakDs('peak dB(Z)', PEAK_Z, PEAK_Z_OUT_MIN, PEAK_Z_OUT_DB, '#1e90ff', 6),
    peakDs('peak dB(C)', PEAK_C, PEAK_C_OUT_MIN, PEAK_C_OUT_DB, '#ff00ff', 5),
    peakDs('peak dB(A)', PEAK_A, PEAK_A_OUT_MIN, PEAK_A_OUT_DB, '#2e8b57', 4),
    lineDs('avg dB(Z)', TOP_AVG_Z, '#4682b4', 1.5, 3),
    lineDs('avg dB(C)', TOP_AVG_C, '#da70d6', 1.5, 2),
    lineDs('avg dB(A)', TOP_AVG_A, '#9acd32', 1.5, 1)
  ]},
  options: Object.assign({}, common, {
    scales: buildScales(fmtHM, 47, 8.7),
    plugins: {legend: {display: false}, tooltip: {enabled: false},
      title: titleOpts('average and peak noise level (1 min sampling)', 19, 6.2)}
  }),
  plugins: [frame]
});

// ---------- chart 2 ----------
const ENV_COLOR = 'rgba(240,150,130,0.4)';
const spikes = ENV_SPIKE_MIN.map((t, i) => ({x: t, y: [ENV_HI[Math.min(ENV_HI.length - 1, Math.floor(t / STEP_MIN))], ENV_SPIKE_DB[i]]}));
const chart2 = new Chart(document.getElementById('c2'), {
  type: 'line',
  data: {datasets: [
    {label: 'envelope min', data: slotPoints(ENV_LO), borderWidth: 0, pointRadius: 0, fill: false, order: 10},
    {label: 'envelope max', data: slotPoints(ENV_HI), borderWidth: 0, pointRadius: 0, fill: '-1', backgroundColor: ENV_COLOR, order: 9},
    {type: 'bar', label: 'envelope peaks', data: spikes, backgroundColor: ENV_COLOR, borderWidth: 0, barThickness: 1.5, grouped: false, order: 8},
    lineDs('dB(Z)', BOT_Z, '#dc143c', 1.8, 3),
    lineDs('dB(C)', BOT_C, '#ff8c00', 1.8, 2),
    lineDs('dB(A)', BOT_A, '#ffd700', 1.8, 1)
  ]},
  options: Object.assign({}, common, {
    scales: buildScales(fmtHMS, 51, 12.7),
    plugins: {legend: {display: false}, tooltip: {enabled: false},
      title: titleOpts('average noise level (5 min with 15s min/max dB envelope)', 22, 4.2)}
  }),
  plugins: [frame]
});

// ---------- legends built from the chart datasets ----------
function buildLegend(el, chart) {
  chart.data.datasets.forEach(ds => {
    if (!ds.inLegend) return;
    const item = document.createElement('div'); item.className = 'li';
    const h = document.createElement('span'); h.className = 'hd';
    const m = document.createElement('span');
    m.style.display = 'inline-block';
    if (ds.showLine === false) {
      m.style.width = '5px'; m.style.height = '5px'; m.style.borderRadius = '50%'; m.style.background = ds.borderColor;
    } else {
      m.style.width = '23px'; m.style.height = '3px'; m.style.background = ds.borderColor;
    }
    h.appendChild(m); item.appendChild(h);
    const t = document.createElement('span'); t.textContent = ds.label; item.appendChild(t);
    el.appendChild(item);
  });
}
buildLegend(document.getElementById('lg1'), chart1);
buildLegend(document.getElementById('lg2'), chart2);
</script>
</body></html>
